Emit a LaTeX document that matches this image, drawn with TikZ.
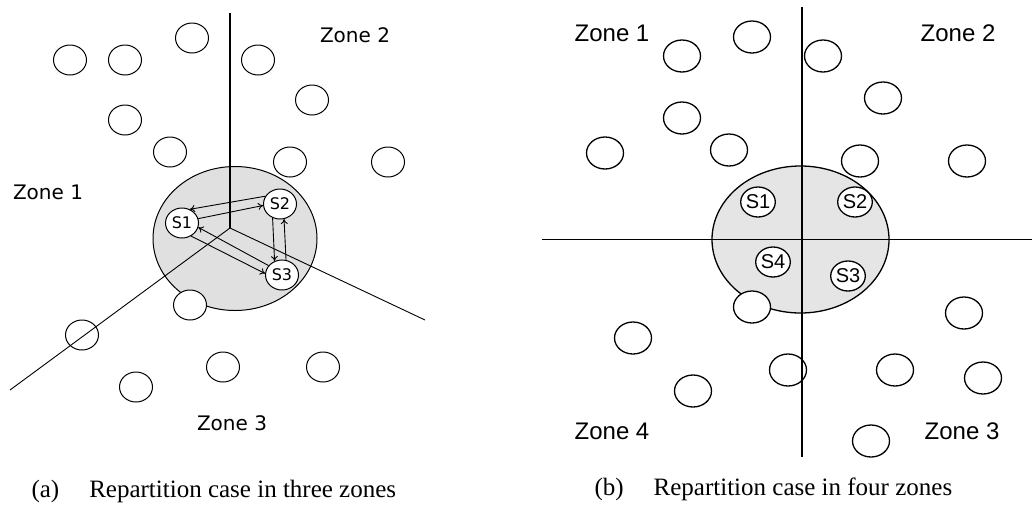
\documentclass[tikz,border=0pt]{standalone}
\usepackage{fontspec}
\setmainfont{Liberation Serif}
\newfontfamily\pixfont{DejaVu Sans}
\newfontfamily\arialfont{Liberation Sans}
\usetikzlibrary{shapes,arrows.meta,positioning,calc}

\begin{document}
\begin{tikzpicture}[x=1pt, y=-1pt,
	peer/.style={ellipse, draw, fill=white, inner sep=0pt, minimum width=33pt, minimum height=30pt, line width=1pt},
	bpeer/.style={ellipse, draw, fill=white, inner sep=0pt, minimum width=37pt, minimum height=32pt, line width=1.3pt},
	apeer/.style={peer, font=\pixfont\fontsize{16}{18}\selectfont},
	sbpeer/.style={bpeer, minimum width=34pt, minimum height=30pt, font=\arialfont\fontsize{20}{22}\selectfont},
	zonea/.style={font=\pixfont\fontsize{20}{24}\selectfont},
	zoneb/.style={font=\arialfont\fontsize{24}{28}\selectfont},
	capt/.style={anchor=west, font=\fontsize{25}{28}\selectfont},
	msg/.style={line width=0.9pt, -{To[length=5pt,width=7pt]}}]
	\useasboundingbox (0,0) rectangle (1032,504);

	% (a) three zones
	\fill[gray!24] (235,238.5) ellipse [x radius=82pt, y radius=72pt];
	\node[apeer] (aS1) at (182,223) {S1};
	\node[apeer] (aS2) at (280,204) {S2};
	\node[apeer] (aS3) at (282,275) {S3};
	\draw[line width=1pt] (235,238.5) ellipse [x radius=82pt, y radius=72pt];
	\foreach \p [count=\i] in {(70,60),(125,60),(192,38),(258,60),(312,100),(125,120),(170,152),(290,162),(388,162),(190,305),(82,335),(223,367),(323,367),(136,387)}
		\node[peer] (a\i) at \p {};
	\coordinate (actr) at (230,228);
	\coordinate (atop) at (230,13);
	\coordinate (aleft) at (10,390);
	\coordinate (aright) at (425,320);
	\draw[line width=1.1pt] (atop) -- (actr);
	\draw[line width=0.9pt] (actr) -- (aleft);
	\draw[line width=0.9pt] (actr) -- (aright);
	\draw[msg] (aS2.152) -- (aS1.60);
	\draw[msg] (aS1.15) -- (aS2.185);
	\draw[msg] (aS2.-118) -- (aS3.118);
	\draw[msg] (aS3.75) -- (aS2.-75);
	\draw[msg] (aS3.145) -- (aS1.-15);
	\draw[msg] (aS1.-55) -- (aS3.175);
	\node[zonea] (az1) at (48,192) {Zone 1};
	\node[zonea] (az2) at (355,35) {Zone 2};
	\node[zonea] (az3) at (232,423) {Zone 3};
	\node[capt] (capa) at (28,491) {(a)\hspace{30pt}Repartition case in three zones};

	% (b) four zones
	\fill[gray!20] (800.5,239.5) ellipse [x radius=88.5pt, y radius=73.5pt];
	\node[sbpeer] (bS1) at (758,202) {S1};
	\node[sbpeer] (bS2) at (855,202) {S2};
	\node[sbpeer] (bS3) at (848,276) {S3};
	\node[sbpeer] (bS4) at (773,262) {S4};
	\draw[line width=1.3pt] (800.5,239.5) ellipse [x radius=88.5pt, y radius=73.5pt];
	\foreach \p [count=\i] in {(752,37),(682,56),(823,56),(883,98),(682,118),(605,153),(729,150),(860,161),(967,161),(752,307),(633,338),(788,370),(964,313),(895,370),(983,378),(693,391),(871,441)}
		\node[bpeer] (b\i) at \p {};
	\coordinate (btop) at (802,7);
	\coordinate (bbot) at (802,457);
	\coordinate (bleft) at (542,239.5);
	\coordinate (bright) at (1032,239.5);
	\draw[line width=1.3pt] (btop) -- (bbot);
	\draw[line width=1.3pt] (bleft) -- (bright);
	\node[zoneb] (bz1) at (612,33) {Zone 1};
	\node[zoneb] (bz2) at (958,33) {Zone 2};
	\node[zoneb] (bz3) at (962,431) {Zone 3};
	\node[zoneb] (bz4) at (612,431) {Zone 4};
	\node[capt] (capb) at (591,489) {(b)\hspace{30pt}Repartition case in four zones};
\end{tikzpicture}
\end{document}
